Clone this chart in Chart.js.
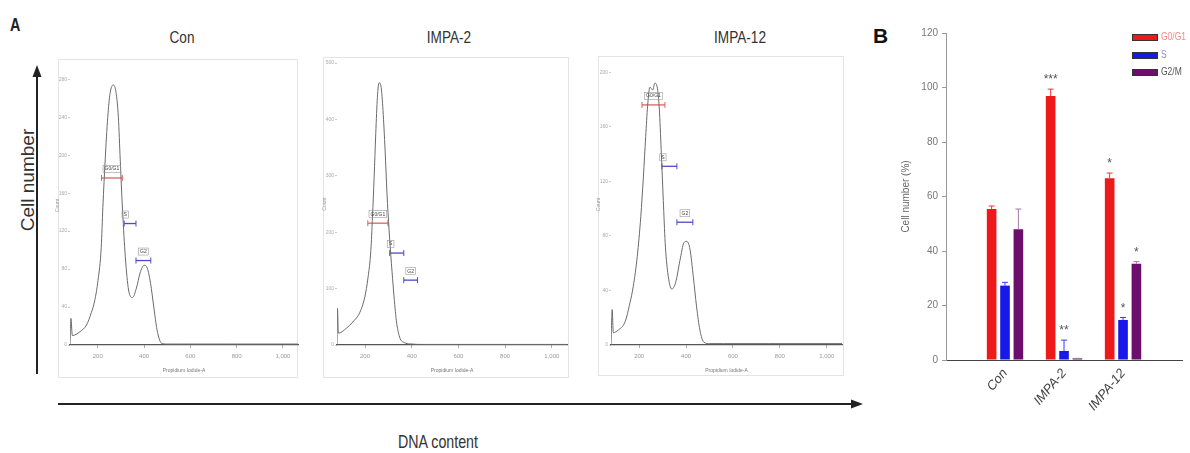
<!DOCTYPE html>
<html>
<head>
<meta charset="utf-8">
<script src="https://cdn.jsdelivr.net/npm/chart.js@4.4.0/dist/chart.umd.min.js"></script>
<style>
  html, body { margin: 0; padding: 0; width: 1190px; height: 453px; overflow: hidden; background: #fff; font-family: "Liberation Sans", Arial, sans-serif; }
  .abs { position: absolute; }
  .frame { position: absolute; border: 1px solid #e4e4e4; box-sizing: border-box; }
  .title { position: absolute; font-size: 17px; color: #333; white-space: nowrap; transform: translateX(-50%) scaleX(0.8); }
  canvas { position: absolute; }
  .leg { position: absolute; left: 1132px; width: 26px; height: 7px; border: 1px solid #333; box-sizing: border-box; }
  .legtxt { position: absolute; left: 1161px; font-size: 10px; white-space: nowrap; transform: scaleX(0.85); transform-origin: left center; }
</style>
</head>
<body>

<div class="abs" style="left:10px;top:15px;font-size:18px;font-weight:bold;color:#222;transform:scaleX(0.8);transform-origin:left top">A</div>
<div class="abs" style="left:873px;top:24px;font-size:21px;font-weight:bold;color:#111">B</div>

<div class="title" style="left:182px;top:28px">Con</div>
<div class="title" style="left:449px;top:28px">IMPA-2</div>
<div class="title" style="left:740px;top:28px">IMPA-12</div>

<div class="frame" style="left:58px;top:59px;width:240px;height:319px"></div>
<div class="frame" style="left:323px;top:57px;width:246px;height:321px"></div>
<div class="frame" style="left:598px;top:56px;width:246px;height:320px"></div>

<svg class="abs" style="left:0;top:0" width="1190" height="453">
  <line x1="37" y1="374" x2="37" y2="74" stroke="#222" stroke-width="2"/>
  <polygon points="37,65 32.5,77 41.5,77" fill="#222"/>
  <line x1="58" y1="404" x2="852" y2="404" stroke="#222" stroke-width="2"/>
  <polygon points="863,404 851,399.5 851,408.5" fill="#222"/>
</svg>

<div class="abs" style="left:28px;top:180px;font-size:19px;color:#333;white-space:nowrap;transform:translate(-50%,-50%) rotate(-90deg)">Cell number</div>
<div class="abs" style="left:438px;top:431px;font-size:19px;color:#333;white-space:nowrap;transform:translateX(-50%) scaleX(0.75)">DNA content</div>

<canvas id="hCon" width="248" height="319" style="left:55px;top:59px"></canvas>
<canvas id="hImpa2" width="250" height="321" style="left:322px;top:57px"></canvas>
<canvas id="hImpa12" width="251" height="321" style="left:596px;top:57px"></canvas>
<canvas id="bars" width="300" height="425" style="left:900px;top:20px"></canvas>

<div id="legend"></div>

<script>
// histogram curves (channel, count)
const conX = [80, 84, 90, 123, 151, 172, 187, 201, 215, 222, 232, 243, 253, 267, 279, 289, 297, 307, 319, 333, 350, 367, 383, 400, 414, 428, 442, 456, 475, 498, 560, 750, 1065];
const conY = [0, 28, 10, 14, 21, 34, 47, 68, 103, 145, 195, 240, 265, 274, 266, 240, 195, 142, 93, 58, 50, 60, 76, 84, 81, 65, 40, 16, 2, 1, 1, 1, 1];

const impa2X = [80, 82, 86, 121, 148, 178, 199, 213, 225, 232, 239, 246, 253, 260, 269, 277, 286, 294, 303, 313, 323, 334, 348, 370, 391, 450, 750, 1065];
const impa2Y = [0, 65, 21, 30, 41, 58, 85, 120, 168, 227, 297, 375, 439, 465, 457, 416, 345, 269, 204, 145, 92, 44, 14, 4, 2, 1, 1, 1];

const impa12X = [80, 85, 90, 111, 140, 161, 175, 192, 207, 218, 228, 236, 246, 258, 267, 277, 286, 294, 303, 311, 322, 339, 356, 374, 391, 403, 417, 431, 445, 459, 476, 502, 560, 750, 1065];
const impa12Y = [0, 26, 9, 11, 17, 31, 43, 65, 94, 123, 153, 175, 189, 187, 192, 189, 173, 143, 106, 75, 53, 41, 46, 62, 75, 76, 70, 50, 28, 11, 2, 1, 1, 1, 1];

const histTicks = [200, 400, 600, 800, 1000];

// cell cycle gates (channel range, count level)
const gateNames = ['G0/G1', 'S', 'G2'];
const conGateStart = [216, 314, 365];
const conGateEnd = [306, 365, 429];
const conGateLevel = [176, 128, 89];
const impa2GateStart = [212, 306, 366];
const impa2GateEnd = [298, 366, 425];
const impa2GateLevel = [216, 163, 115];
const impa12GateStart = [212, 297, 361];
const impa12GateEnd = [310, 361, 429];
const impa12GateLevel = [176, 131, 90];

// panel B
const categories = ['Con', 'IMPA-2', 'IMPA-12'];
const seriesNames = ['G0/G1', 'S', 'G2/M'];
const g0g1 = [55.4, 96.9, 66.7];
const g0g1Err = [1.1, 2.5, 1.9];
const g0g1Stars = ['', '***', '*'];
const sPhase = [27.3, 3.3, 14.7];
const sPhaseErr = [1.2, 4.0, 0.9];
const sPhaseStars = ['', '**', '*'];
const g2m = [48.0, 0.6, 35.3];
const g2mErr = [7.4, 0, 0.8];
const g2mStars = ['', '', '*'];

Chart.defaults.font.family = '"Liberation Sans", Arial, sans-serif';

const gateColors = ['#e06060', '#4a4ac8', '#4a4ac8'];

const gateLabels = {
  id: 'gateLabels',
  afterDatasetsDraw(chart) {
    const ctx = chart.ctx;
    ctx.save();
    ctx.font = '5px "Liberation Sans", Arial';
    ctx.textAlign = 'center';
    ctx.textBaseline = 'middle';
    for (let i = 1; i < chart.data.datasets.length; i++) {
      const pts = chart.getDatasetMeta(i).data;
      const name = chart.data.datasets[i].label;
      const x = name === 'S' ? pts[0].x + 1 : (pts[0].x + pts[1].x) / 2;
      const y = pts[0].y - 9;
      const w = ctx.measureText(name).width + 3;
      ctx.strokeStyle = '#999';
      ctx.lineWidth = 0.6;
      ctx.strokeRect(x - w / 2, y - 3.5, w, 7);
      ctx.fillStyle = '#444';
      ctx.fillText(name, x, y);
    }
    ctx.restore();
  }
};

function makeHist(id, xs, ys, yMax, yStep, padTop, gStart, gEnd, gLevel) {
  const curve = xs.map((x, i) => ({ x: x, y: ys[i] }));
  const gates = gateNames.map((name, i) => ({
    label: name,
    data: [{ x: gStart[i], y: gLevel[i] }, { x: gEnd[i], y: gLevel[i] }],
    borderColor: gateColors[i],
    borderWidth: 1.3,
    pointStyle: 'line',
    pointRadius: 3,
    pointRotation: 90,
    pointBorderColor: gateColors[i],
    pointBorderWidth: 1
  }));
  new Chart(document.getElementById(id), {
    type: 'line',
    data: {
      datasets: [{ label: 'curve', data: curve, borderColor: '#6a6a6a', borderWidth: 1, pointRadius: 0, cubicInterpolationMode: 'monotone' }].concat(gates)
    },
    options: {
      responsive: false,
      animation: false,
      events: [],
      layout: { padding: { top: padTop, right: 2, left: 0, bottom: 0 } },
      plugins: { legend: { display: false }, tooltip: { enabled: false } },
      scales: {
        x: {
          type: 'linear', min: 80, max: 1065,
          afterBuildTicks: s => { s.ticks = histTicks.map(v => ({ value: v })); },
          ticks: { font: { size: 6 }, color: '#999', padding: 5 },
          grid: { drawOnChartArea: false, tickLength: 3, color: '#aaa' },
          border: { color: '#555', width: 1.2 },
          title: { display: true, text: 'Propidium Iodide-A', font: { size: 5 }, color: '#777', padding: { top: 0, bottom: 4 } },
          afterFit: s => { s.height = 33; }
        },
        y: {
          min: 0, max: yMax,
          ticks: { stepSize: yStep, includeBounds: false, font: { size: 5 }, color: '#aaa', padding: 1 },
          grid: { drawOnChartArea: false, tickLength: 2, color: '#ccc' },
          border: { display: false },
          title: { display: true, text: 'Count', font: { size: 5 }, color: '#999', padding: 0 },
          afterFit: s => { s.width = 15; }
        }
      }
    },
    plugins: [gateLabels]
  });
}

makeHist('hCon', conX, conY, 294, 40, 7, conGateStart, conGateEnd, conGateLevel);
makeHist('hImpa2', impa2X, impa2Y, 500, 100, 6, impa2GateStart, impa2GateEnd, impa2GateLevel);
makeHist('hImpa12', impa12X, impa12Y, 206, 40, 7, impa12GateStart, impa12GateEnd, impa12GateLevel);

// bar chart
const barColors = ['#ee1a1a', '#1818e8', '#6c0f6c'];
const errColors = ['#e33', '#3a3aff', '#a27aa2'];
const legendText = ['#f08a8a', '#8a8ae0', '#555'];
const pad = a => [null].concat(a, [null]);

const errorBars = {
  id: 'errorBars',
  afterDatasetsDraw(chart) {
    const ctx = chart.ctx, yScale = chart.scales.y;
    ctx.save();
    chart.data.datasets.forEach((ds, di) => {
      chart.getDatasetMeta(di).data.forEach((bar, i) => {
        const v = ds.data[i];
        if (v == null) return;
        const top = yScale.getPixelForValue(v + ds.errors[i]);
        ctx.strokeStyle = ds.errColor;
        ctx.lineWidth = 1;
        ctx.beginPath();
        ctx.moveTo(bar.x, bar.y);
        ctx.lineTo(bar.x, top);
        ctx.moveTo(bar.x - 3, top);
        ctx.lineTo(bar.x + 3, top);
        ctx.stroke();
        if (ds.stars[i]) {
          ctx.fillStyle = '#555';
          ctx.font = '12px "Liberation Sans", Arial';
          ctx.textAlign = 'center';
          ctx.textBaseline = 'middle';
          ctx.fillText(ds.stars[i], bar.x, top - 9);
        }
      });
    });
    ctx.restore();
  }
};

const seriesValues = [g0g1, sPhase, g2m];
const seriesErrs = [g0g1Err, sPhaseErr, g2mErr];
const seriesStars = [g0g1Stars, sPhaseStars, g2mStars];

new Chart(document.getElementById('bars'), {
  type: 'bar',
  data: {
    labels: [''].concat(categories, ['']),
    datasets: seriesNames.map((name, k) => ({
      label: name,
      data: pad(seriesValues[k]),
      errors: pad(seriesErrs[k]),
      stars: pad(seriesStars[k]),
      errColor: errColors[k],
      backgroundColor: barColors[k],
      categoryPercentage: 0.68,
      barPercentage: 0.72
    }))
  },
  options: {
    responsive: false,
    animation: false,
    events: [],
    layout: { padding: { top: 13, right: 6, left: 0, bottom: 0 } },
    plugins: { legend: { display: false }, tooltip: { enabled: false } },
    scales: {
      x: {
        offset: false,
        grid: { display: false, drawTicks: false },
        border: { color: '#444', width: 1 },
        ticks: { autoSkip: false, maxRotation: 50, minRotation: 50, font: { size: 13, style: 'italic' }, color: '#444', padding: 6 },
        afterFit: s => { s.height = 85; }
      },
      y: {
        min: 0, max: 120,
        ticks: { stepSize: 20, font: { size: 10 }, color: '#777', padding: 4 },
        grid: { drawOnChartArea: false, tickLength: 4, color: '#999' },
        border: { color: '#999', width: 1 },
        title: { display: true, text: 'Cell number (%)', font: { size: 10 }, color: '#666', padding: 0 },
        afterFit: s => { s.width = 46; }
      }
    }
  },
  plugins: [errorBars]
});

// legend for panel B
const legend = document.getElementById('legend');
seriesNames.forEach((name, k) => {
  const top = 34 + k * 17.5;
  const box = document.createElement('div');
  box.className = 'leg';
  box.style.top = top + 'px';
  box.style.background = barColors[k];
  legend.appendChild(box);
  const t = document.createElement('div');
  t.className = 'legtxt';
  t.style.top = (top - 3) + 'px';
  t.style.color = legendText[k];
  t.textContent = name;
  legend.appendChild(t);
});
</script>
</body>
</html>
